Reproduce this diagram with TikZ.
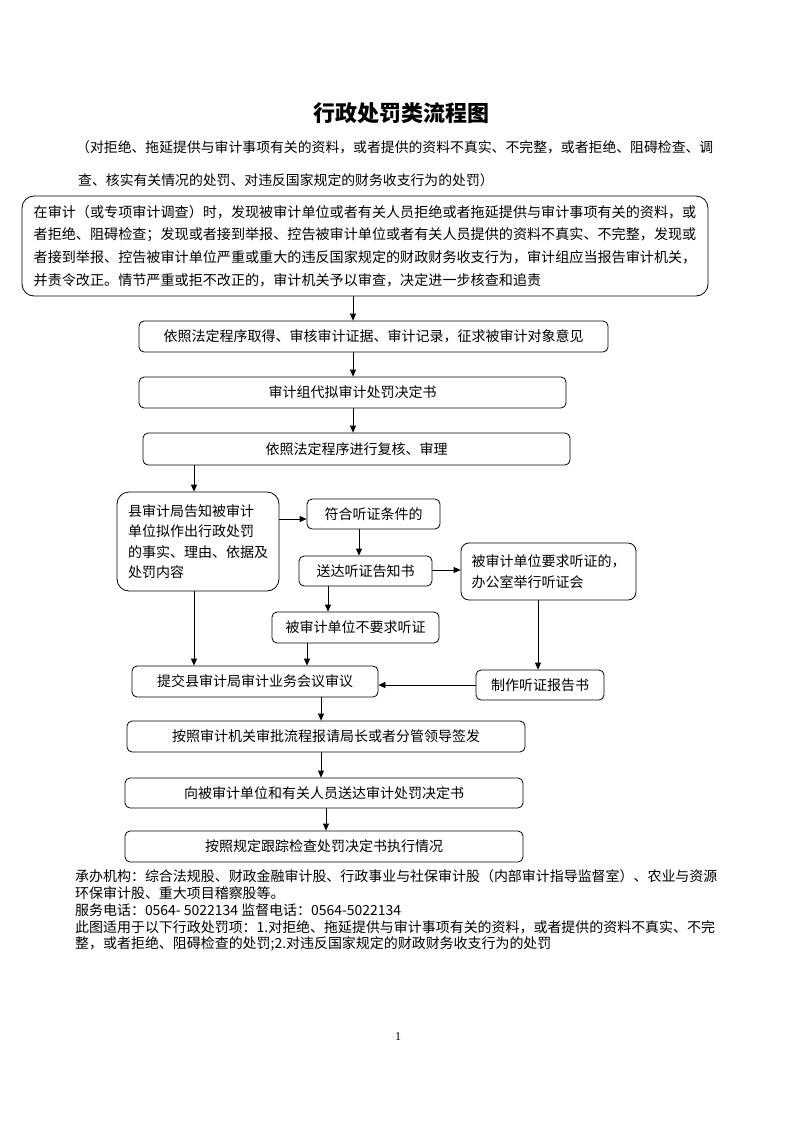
\documentclass[tikz,border=0pt]{standalone}
\usepackage{fontspec}
\setmainfont{Noto Sans CJK SC}
\newfontfamily\lserif{Liberation Serif}
\usetikzlibrary{arrows.meta}
\tikzset{
  box/.style={draw, line width=0.8pt, rounded corners=5pt, inner sep=0pt,
    font=\fontsize{14}{17}\selectfont, anchor=center},
  arr/.style={line width=0.8pt, -{Triangle[length=7pt,width=6pt]}},
  para/.style={anchor=west, inner sep=0pt},
}
\newcommand\mybox[7][]{\node[box,#1,minimum width={(#4-#3)*1pt},minimum height={(#6-#5)*1pt}] (#2) at ({(#3+#4)/2},{(#5+#6)/2}) {#7};}
\begin{document}
\begin{tikzpicture}[x=1pt,y=-1pt]
\useasboundingbox (0,0) rectangle (793,1122);
\fill[white] (0,0) rectangle (793,1122);

\node[inner sep=0pt, font=\fontsize{22}{24}\selectfont\bfseries] (title) at (401,113) {行政处罚类流程图};
\node[para, font=\fontsize{13.85}{16}\selectfont] (sub1) at (76,147) {（对拒绝、拖延提供与审计事项有关的资料，或者提供的资料不真实、不完整，或者拒绝、阻碍检查、调};
\node[para, font=\fontsize{13.85}{16}\selectfont] (sub2) at (78,180) {查、核实有关情况的处罚、对违反国家规定的财务收支行为的处罚）};

\mybox[rounded corners=12pt, align=left, font=\fontsize{14.1}{22.7}\selectfont]{top}{22}{708}{196}{296}{在审计（或专项审计调查）时，发现被审计单位或者有关人员拒绝或者拖延提供与审计事项有关的资料，或\\者拒绝、阻碍检查；发现或者接到举报、控告被审计单位或者有关人员提供的资料不真实、不完整，发现或\\者接到举报、控告被审计单位严重或重大的违反国家规定的财政财务收支行为，审计组应当报告审计机关，\\并责令改正。情节严重或拒不改正的，审计机关予以审查，决定进一步核查和追责}

\mybox{b2}{139}{608}{321}{352}{依照法定程序取得、审核审计证据、审计记录，征求被审计对象意见}
\mybox{b3}{139}{566}{377}{408}{审计组代拟审计处罚决定书}
\mybox{b4}{143}{570}{433}{465}{依照法定程序进行复核、审理}
\mybox[rounded corners=12pt, align=left, font=\fontsize{14}{20.5}\selectfont]{b5}{117}{279}{492}{591}{县审计局告知被审计\\单位拟作出行政处罚\\的事实、理由、依据及\\处罚内容}
\mybox{b6}{307}{440}{499}{529}{符合听证条件的}
\mybox{b7}{299}{432}{556}{586}{送达听证告知书}
\mybox[rounded corners=8pt, align=left, font=\fontsize{14}{21}\selectfont]{b8}{461}{636}{543}{600}{被审计单位要求听证的，\\办公室举行听证会}
\mybox{b9}{272}{439}{612}{643}{被审计单位不要求听证}
\mybox{b10}{132}{378}{666}{697}{提交县审计局审计业务会议审议}
\mybox{b11}{476}{604}{670}{700}{制作听证报告书}
\mybox{b12}{127}{525}{721}{752}{按照审计机关审批流程报请局长或者分管领导签发}
\mybox{b13}{125}{523}{778}{808}{向被审计单位和有关人员送达审计处罚决定书}
\mybox{b14}{125}{523}{831}{862}{按照规定跟踪检查处罚决定书执行情况}

\draw[arr] (353,0 |- top.south) -- (353,0 |- b2.north);
\draw[arr] (353,0 |- b2.south) -- (353,0 |- b3.north);
\draw[arr] (353,0 |- b3.south) -- (353,0 |- b4.north);
\draw[arr] (194,0 |- b4.south) -- (194,0 |- b5.north);
\draw[arr] (b5.east |- 0,519) -- (b6.west |- 0,519);
\draw[arr] (359,0 |- b6.south) -- (359,0 |- b7.north);
\draw[arr] (b7.east |- 0,570) -- (b8.west |- 0,570);
\draw[arr] (328,0 |- b7.south) -- (328,0 |- b9.north);
\draw[arr] (307,0 |- b9.south) -- (307,0 |- b10.north);
\draw[arr] (194,0 |- b5.south) -- (194,0 |- b10.north);
\draw[arr] (538,0 |- b8.south) -- (538,0 |- b11.north);
\draw[arr] (b11.west |- 0,685) -- (b10.east |- 0,685);
\draw[arr] (321,0 |- b10.south) -- (321,0 |- b12.north);
\draw[arr] (321,0 |- b12.south) -- (321,0 |- b13.north);
\draw[arr] (326,0 |- b13.south) -- (326,0 |- b14.north);

\begin{scope}[every node/.style={para, font=\fontsize{13.96}{16}\selectfont}]
\node (f1) at (75,876) {承办机构：综合法规股、财政金融审计股、行政事业与社保审计股（内部审计指导监督室）、农业与资源};
\node (f2) at (75,893) {环保审计股、重大项目稽察股等。};
\node (f3) at (75,910) {服务电话：0564- 5022134 监督电话：0564-5022134};
\node (f4) at (75,927) {此图适用于以下行政处罚项：1.对拒绝、拖延提供与审计事项有关的资料，或者提供的资料不真实、不完};
\node (f5) at (75,944) {整，或者拒绝、阻碍检查的处罚;2.对违反国家规定的财政财务收支行为的处罚};
\end{scope}
\node[inner sep=0pt, font=\lserif\fontsize{12}{14}\selectfont] (pg) at (398,1037) {1};
\end{tikzpicture}
\end{document}
